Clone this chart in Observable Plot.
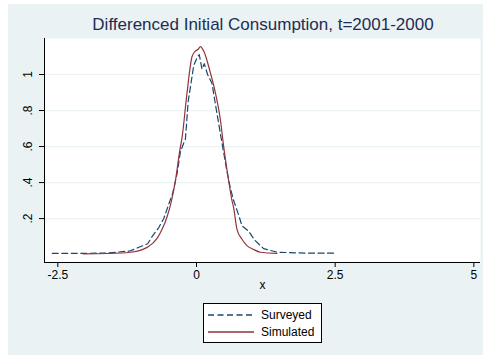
<!DOCTYPE html>
<html><head><meta charset="utf-8">
<script src="https://cdn.jsdelivr.net/npm/d3@7"></script>
<script src="https://cdn.jsdelivr.net/npm/@observablehq/plot@0.6"></script>
<style>
body{margin:0;background:#fff;font-family:"Liberation Sans",Arial,sans-serif;}
#wrap{position:absolute;left:8px;top:4px;width:475px;height:351px;background:#eaf2f3;}
#title{position:absolute;left:0;top:11px;width:510px;text-align:center;font-size:17px;color:#1e2d53;white-space:nowrap;}
#chart{position:absolute;left:0;top:30px;}
#legend{position:absolute;left:187px;top:295px;}
</style></head>
<body>
<div id="wrap">
<div id="title">Differenced Initial Consumption, t=2001-2000</div>
<div id="chart"></div>
<div id="legend"></div>
</div>
<script>
const titleText = "Differenced Initial Consumption, t=2001-2000";
const xLabel = "x";
const seriesNames = ["Surveyed", "Simulated"];
const seriesColors = ["#1a476f", "#90353b"];
const xTicks = [-2.5, 0, 2.5, 5];
const yTicks = [0.2, 0.4, 0.6, 0.8, 1];

const xSurveyed = [-2.6,-2.0,-1.6,-1.2,-0.88,-0.8,-0.68,-0.59,-0.5,-0.43,-0.35,-0.29,-0.23,-0.2,-0.15,-0.11,-0.05,0.02,0.05,0.08,0.1,0.14,0.2,0.28,0.36,0.46,0.55,0.61,0.67,0.76,0.82,0.94,1.05,1.21,1.46,2.0,2.5];
const ySurveyed = [0.007,0.007,0.009,0.02,0.06,0.1,0.15,0.2,0.28,0.34,0.45,0.57,0.62,0.64,0.85,0.93,1.05,1.10,1.11,1.06,1.03,1.06,1.0,0.95,0.8,0.62,0.46,0.37,0.3,0.22,0.16,0.13,0.08,0.033,0.013,0.008,0.008];

const xSimulated = [-2.04,-1.6,-1.19,-1.0,-0.89,-0.71,-0.62,-0.53,-0.45,-0.38,-0.3,-0.26,-0.17,-0.08,-0.02,0.03,0.07,0.13,0.25,0.34,0.43,0.49,0.58,0.64,0.67,0.73,0.82,0.91,1.02,1.15,1.45];
const ySimulated = [0.004,0.006,0.013,0.025,0.04,0.09,0.14,0.21,0.3,0.41,0.58,0.65,0.9,1.1,1.13,1.14,1.155,1.13,1.01,0.9,0.75,0.6,0.41,0.3,0.26,0.14,0.085,0.05,0.03,0.013,0.007];

const surveyed = xSurveyed.map((x,i)=>({x, y:ySurveyed[i]}));
const simulated = xSimulated.map((x,i)=>({x, y:ySimulated[i]}));
const xDomain = [-2.74, 5.12];
const yDomain = [-0.044, 1.2];
const fmt = d => String(d).replace(/^0\./, ".").replace(/^-0\./, "-.");

document.getElementById("title").textContent = titleText;

const plot = Plot.plot({
  width: 475, height: 266,
  marginLeft: 36, marginRight: 3, marginTop: 4, marginBottom: 38,
  style: {background: "transparent", fontFamily: "'Liberation Sans', Arial, sans-serif", fontSize: "12px", color: "#000"},
  x: {domain: xDomain},
  y: {domain: yDomain},
  marks: [
    Plot.frame({fill: "white", stroke: null}),
    Plot.gridY(yTicks, {stroke: "#eaf2f3", strokeOpacity: 1, strokeWidth: 1.2}),
    Plot.line(surveyed, {x: "x", y: "y", stroke: seriesColors[0], strokeWidth: 1.2, strokeDasharray: "6,3.5"}),
    Plot.line(simulated, {x: "x", y: "y", stroke: seriesColors[1], strokeWidth: 1.2, curve: "monotone-x"}),
    Plot.axisX(xTicks, {tickSize: 5, tickPadding: 3, tickFormat: fmt, label: null, fill: "#000", stroke: "#000"}),
    Plot.axisY(yTicks, {tickSize: 5, tickPadding: 8, tickFormat: fmt, label: null, tickRotate: -90, fill: "#000", stroke: "#000"}),
    Plot.ruleX([xDomain[0]], {stroke: "#000", strokeWidth: 1}),
    Plot.ruleY([yDomain[0]], {stroke: "#000", strokeWidth: 1}),
    Plot.text([xLabel], {frameAnchor: "bottom", dy: 26, text: d => d, fontSize: 12, fill: "#000"})
  ]
});
document.getElementById("chart").append(plot);

// legend
const lg = d3.select("#legend").append("svg").attr("width", 130).attr("height", 48);
lg.append("rect").attr("x", 8.5).attr("y", 4.5).attr("width", 118).attr("height", 39).attr("fill", "white").attr("stroke", "#000");
seriesNames.forEach((name, i) => {
  const y = 16 + i * 17;
  lg.append("line").attr("x1", 13).attr("x2", 59).attr("y1", y).attr("y2", y)
    .attr("stroke", seriesColors[i]).attr("stroke-width", 1.3)
    .attr("stroke-dasharray", i === 0 ? "6,3.5" : null);
  lg.append("text").attr("x", 66).attr("y", y + 4).attr("font-size", 12)
    .attr("font-family", "'Liberation Sans', Arial, sans-serif").attr("fill", "#000").text(name);
});
</script>
</body></html>
